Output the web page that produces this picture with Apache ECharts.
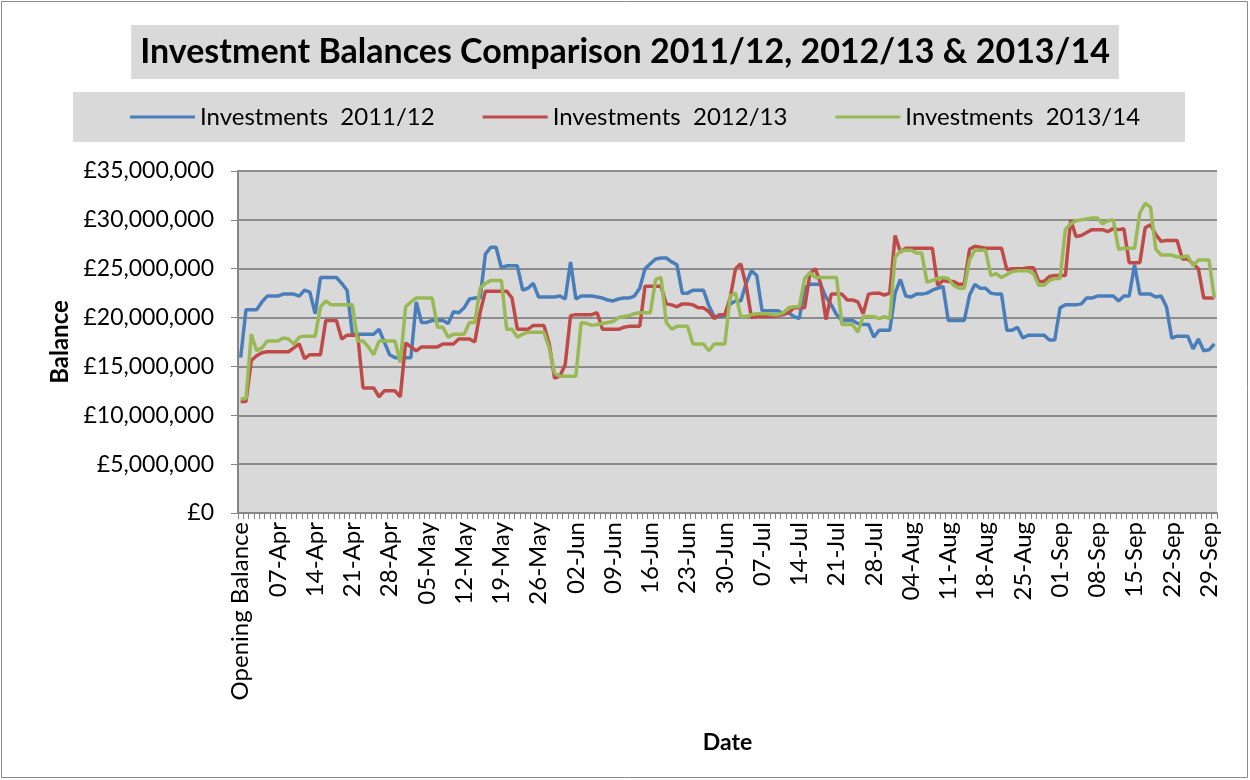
<!DOCTYPE html>
<html>
<head>
<meta charset="utf-8">
<script src="https://cdn.jsdelivr.net/npm/echarts@6/dist/echarts.min.js"></script>
<style>
html,body{margin:0;padding:0;background:#fff;}
#chart{width:1250px;height:780px;}
</style>
</head>
<body>
<div id="chart"></div>
<script>
// Category labels: "Opening Balance" then each day 01-Apr .. 30-Sep
const monthNames = ['Apr','May','Jun','Jul','Aug','Sep'];
const monthDays = [30,31,30,31,31,30];
const categories = ['Opening Balance'];
monthNames.forEach((m, k) => {
  for (let d = 1; d <= monthDays[k]; d++) categories.push((d < 10 ? '0' : '') + d + '-' + m);
});

const seriesNames = ['Investments  2011/12', 'Investments  2012/13', 'Investments  2013/14'];

// Balances in £ millions
const invest2011 = [
15.9,20.8,20.8,20.8,21.6,22.2,22.2,22.2,22.4,22.4,
22.4,22.2,22.8,22.6,20.4,24.1,24.1,24.1,24.1,23.5,
22.8,18.3,18.3,18.3,18.3,18.3,18.8,17.5,16.2,15.9,
15.9,15.9,15.9,21.6,19.5,19.5,19.7,19.7,19.7,19.4,
20.6,20.5,21.0,21.9,22.0,22.0,26.5,27.2,27.2,25.1,
25.3,25.3,25.3,22.8,23.0,23.5,22.1,22.1,22.1,22.1,
22.2,21.9,25.7,21.9,22.2,22.2,22.2,22.1,22.0,21.8,
21.7,21.9,22.0,22.0,22.2,23.0,25.0,25.5,26.0,26.1,
26.1,25.7,25.4,22.5,22.5,22.8,22.8,22.8,21.2,20.1,
20.1,20.2,21.4,21.7,21.7,23.5,24.8,24.3,20.7,20.7,
20.7,20.7,20.4,20.5,20.1,19.9,23.0,23.4,23.4,23.4,
22.1,21.3,20.3,19.7,19.7,19.7,19.4,19.3,19.3,18.0,
18.7,18.7,18.7,22.5,23.9,22.2,22.1,22.4,22.4,22.5,
22.8,23.0,23.2,19.7,19.7,19.7,19.7,22.3,23.4,23.0,
23.0,22.5,22.4,22.4,18.7,18.7,19.0,17.9,18.2,18.2,
18.2,18.2,17.7,17.7,21.0,21.3,21.3,21.3,21.4,22.0,
22.0,22.2,22.2,22.2,22.2,21.7,22.2,22.2,25.4,22.4,
22.4,22.4,22.1,22.2,21.1,17.9,18.1,18.1,18.1,16.8,
17.8,16.6,16.7,17.3
];
const invest2012 = [
11.4,11.4,15.6,16.1,16.4,16.5,16.5,16.5,16.5,16.5,
16.9,17.3,15.8,16.2,16.2,16.2,19.7,19.7,19.7,17.8,
18.2,18.2,18.2,12.8,12.8,12.8,11.9,12.5,12.5,12.5,
11.9,17.4,17.0,16.6,17.0,17.0,17.0,17.0,17.3,17.3,
17.3,17.8,17.8,17.8,17.5,20.5,22.7,22.7,22.7,22.7,
22.7,22.0,18.8,18.8,18.8,19.2,19.2,19.2,17.3,13.8,
14.0,15.2,20.2,20.3,20.3,20.3,20.3,20.5,18.8,18.8,
18.8,18.8,19.0,19.1,19.1,19.1,23.2,23.2,23.2,23.2,
21.4,21.3,21.1,21.4,21.4,21.3,21.0,21.0,20.6,19.9,
20.3,20.3,22.0,25.0,25.5,23.3,20.0,20.1,20.1,20.1,
20.1,20.2,20.3,20.5,21.0,21.0,21.0,24.5,25.0,23.5,
19.8,22.4,22.4,22.4,21.8,21.8,21.6,20.4,22.4,22.5,
22.5,22.3,22.5,28.4,26.7,27.1,27.1,27.1,27.1,27.1,
27.1,23.3,23.8,23.7,23.7,23.4,23.4,27.0,27.3,27.2,
27.1,27.1,27.1,27.1,24.9,25.0,25.0,25.0,25.1,25.1,
23.7,23.7,24.2,24.3,24.3,24.3,30.0,28.3,28.4,28.7,
29.0,29.0,29.0,28.8,29.1,29.0,29.1,25.6,25.6,25.6,
29.2,29.5,28.5,27.8,27.9,27.9,27.9,26.0,26.0,25.5,
25.0,22.0,22.0,22.0
];
const invest2013 = [
11.7,11.7,18.3,16.6,16.9,17.6,17.6,17.6,17.9,17.8,
17.3,18.0,18.1,18.1,18.1,21.1,21.7,21.3,21.3,21.3,
21.3,21.3,17.6,17.6,17.0,16.2,17.6,17.6,17.6,17.6,
15.4,21.1,21.6,22.0,22.0,22.0,22.0,19.0,19.0,18.0,
18.3,18.3,18.3,19.5,19.5,23.0,23.5,23.8,23.8,23.8,
18.8,18.8,18.0,18.3,18.5,18.5,18.5,18.5,16.9,14.3,
14.0,14.0,14.0,14.0,19.5,19.4,19.2,19.3,19.4,19.5,
19.6,20.0,20.1,20.2,20.4,20.5,20.5,20.5,23.9,24.1,
19.5,18.8,19.1,19.1,19.1,17.3,17.3,17.3,16.6,17.3,
17.3,17.3,22.2,22.5,20.1,20.1,20.3,20.4,20.4,20.4,
20.3,20.3,20.5,21.0,21.1,21.1,24.0,24.6,24.1,24.1,
24.1,24.1,24.1,19.3,19.3,19.3,18.5,20.1,20.1,20.1,
19.9,20.1,19.9,26.2,26.8,26.9,26.9,26.6,26.6,23.6,
23.8,24.0,24.1,24.0,23.3,23.0,23.0,25.9,26.9,26.9,
26.9,24.3,24.5,24.1,24.4,24.7,24.8,24.8,24.8,24.5,
23.3,23.3,23.8,24.0,24.0,29.0,29.6,29.9,30.0,30.1,
30.2,30.2,29.6,29.9,30.0,27.0,27.1,27.1,27.1,30.7,
31.7,31.3,27.0,26.4,26.4,26.4,26.2,26.2,26.3,25.3,
25.9,25.9,25.9,22.0
];

const yMin = 0, yMax = 35, yStep = 5;
const colors = ['#4a7ebb', '#be4b48', '#98b954'];
const FONT = 'Lato, "Open Sans", sans-serif';

function money(v) {
  const n = Math.round(v * 1000000);
  return '£' + String(n).replace(/\B(?=(\d{3})+(?!\d))/g, ',');
}

const chart = echarts.init(document.getElementById('chart'), null, {renderer: 'canvas'});
chart.setOption({
  animation: false,
  backgroundColor: '#ffffff',
  color: colors,
  title: {
    text: 'Investment Balances Comparison 2011/12, 2012/13 & 2013/14',
    left: 'center',
    top: 25,
    backgroundColor: '#d9d9d9',
    padding: [10, 9, 10, 9],
    textStyle: {fontFamily: FONT, fontWeight: 'bold', fontSize: 34, color: '#000'}
  },
  legend: {
    data: seriesNames,
    left: 73,
    top: 92,
    backgroundColor: '#d9d9d9',
    padding: [13, 45, 13, 57],
    itemGap: 48,
    itemWidth: 65,
    itemHeight: 3,
    icon: 'rect',
    textStyle: {fontFamily: FONT, fontSize: 24, color: '#000'}
  },
  grid: {
    left: 238, right: 33, top: 171, bottom: 267,
    show: true, backgroundColor: '#d9d9d9', borderWidth: 0,
    containLabel: false
  },
  xAxis: {
    type: 'category',
    data: categories,
    boundaryGap: true,
    name: 'Date',
    nameLocation: 'middle',
    nameGap: 218,
    nameTextStyle: {fontFamily: FONT, fontWeight: 'bold', fontSize: 23, color: '#000'},
    axisLine: {show: true, lineStyle: {color: '#868686', width: 2}},
    axisTick: {show: true, interval: 0, length: 6, lineStyle: {color: '#868686', width: 1}},
    axisLabel: {interval: 6, rotate: 90, fontFamily: FONT, fontSize: 24, color: '#000', margin: 9},
    splitLine: {show: false}
  },
  yAxis: {
    type: 'value',
    min: yMin, max: yMax, interval: yStep,
    name: 'Balance',
    nameLocation: 'middle',
    nameGap: 165,
    nameRotate: 90,
    nameTextStyle: {fontFamily: FONT, fontWeight: 'bold', fontSize: 24, color: '#000'},
    axisLine: {show: true, lineStyle: {color: '#868686', width: 2}},
    axisTick: {show: true, length: 7, lineStyle: {color: '#868686'}},
    axisLabel: {formatter: money, fontFamily: FONT, fontSize: 23, color: '#000', margin: 24},
    splitLine: {show: true, lineStyle: {color: '#8c8c8c', width: 2}}
  },
  series: [invest2011, invest2012, invest2013].map((d, k) => ({
    name: seriesNames[k],
    type: 'line',
    data: d,
    showSymbol: false,
    symbol: 'none',
    lineStyle: {width: 3.5, color: colors[k]},
    itemStyle: {color: colors[k]},
    z: 3 + k
  })),
  graphic: [{
    type: 'rect',
    shape: {x: 1.5, y: 1.5, width: 1246, height: 776},
    style: {fill: null, stroke: '#8c8c8c', lineWidth: 1},
    silent: true
  }]
});
</script>
</body>
</html>
